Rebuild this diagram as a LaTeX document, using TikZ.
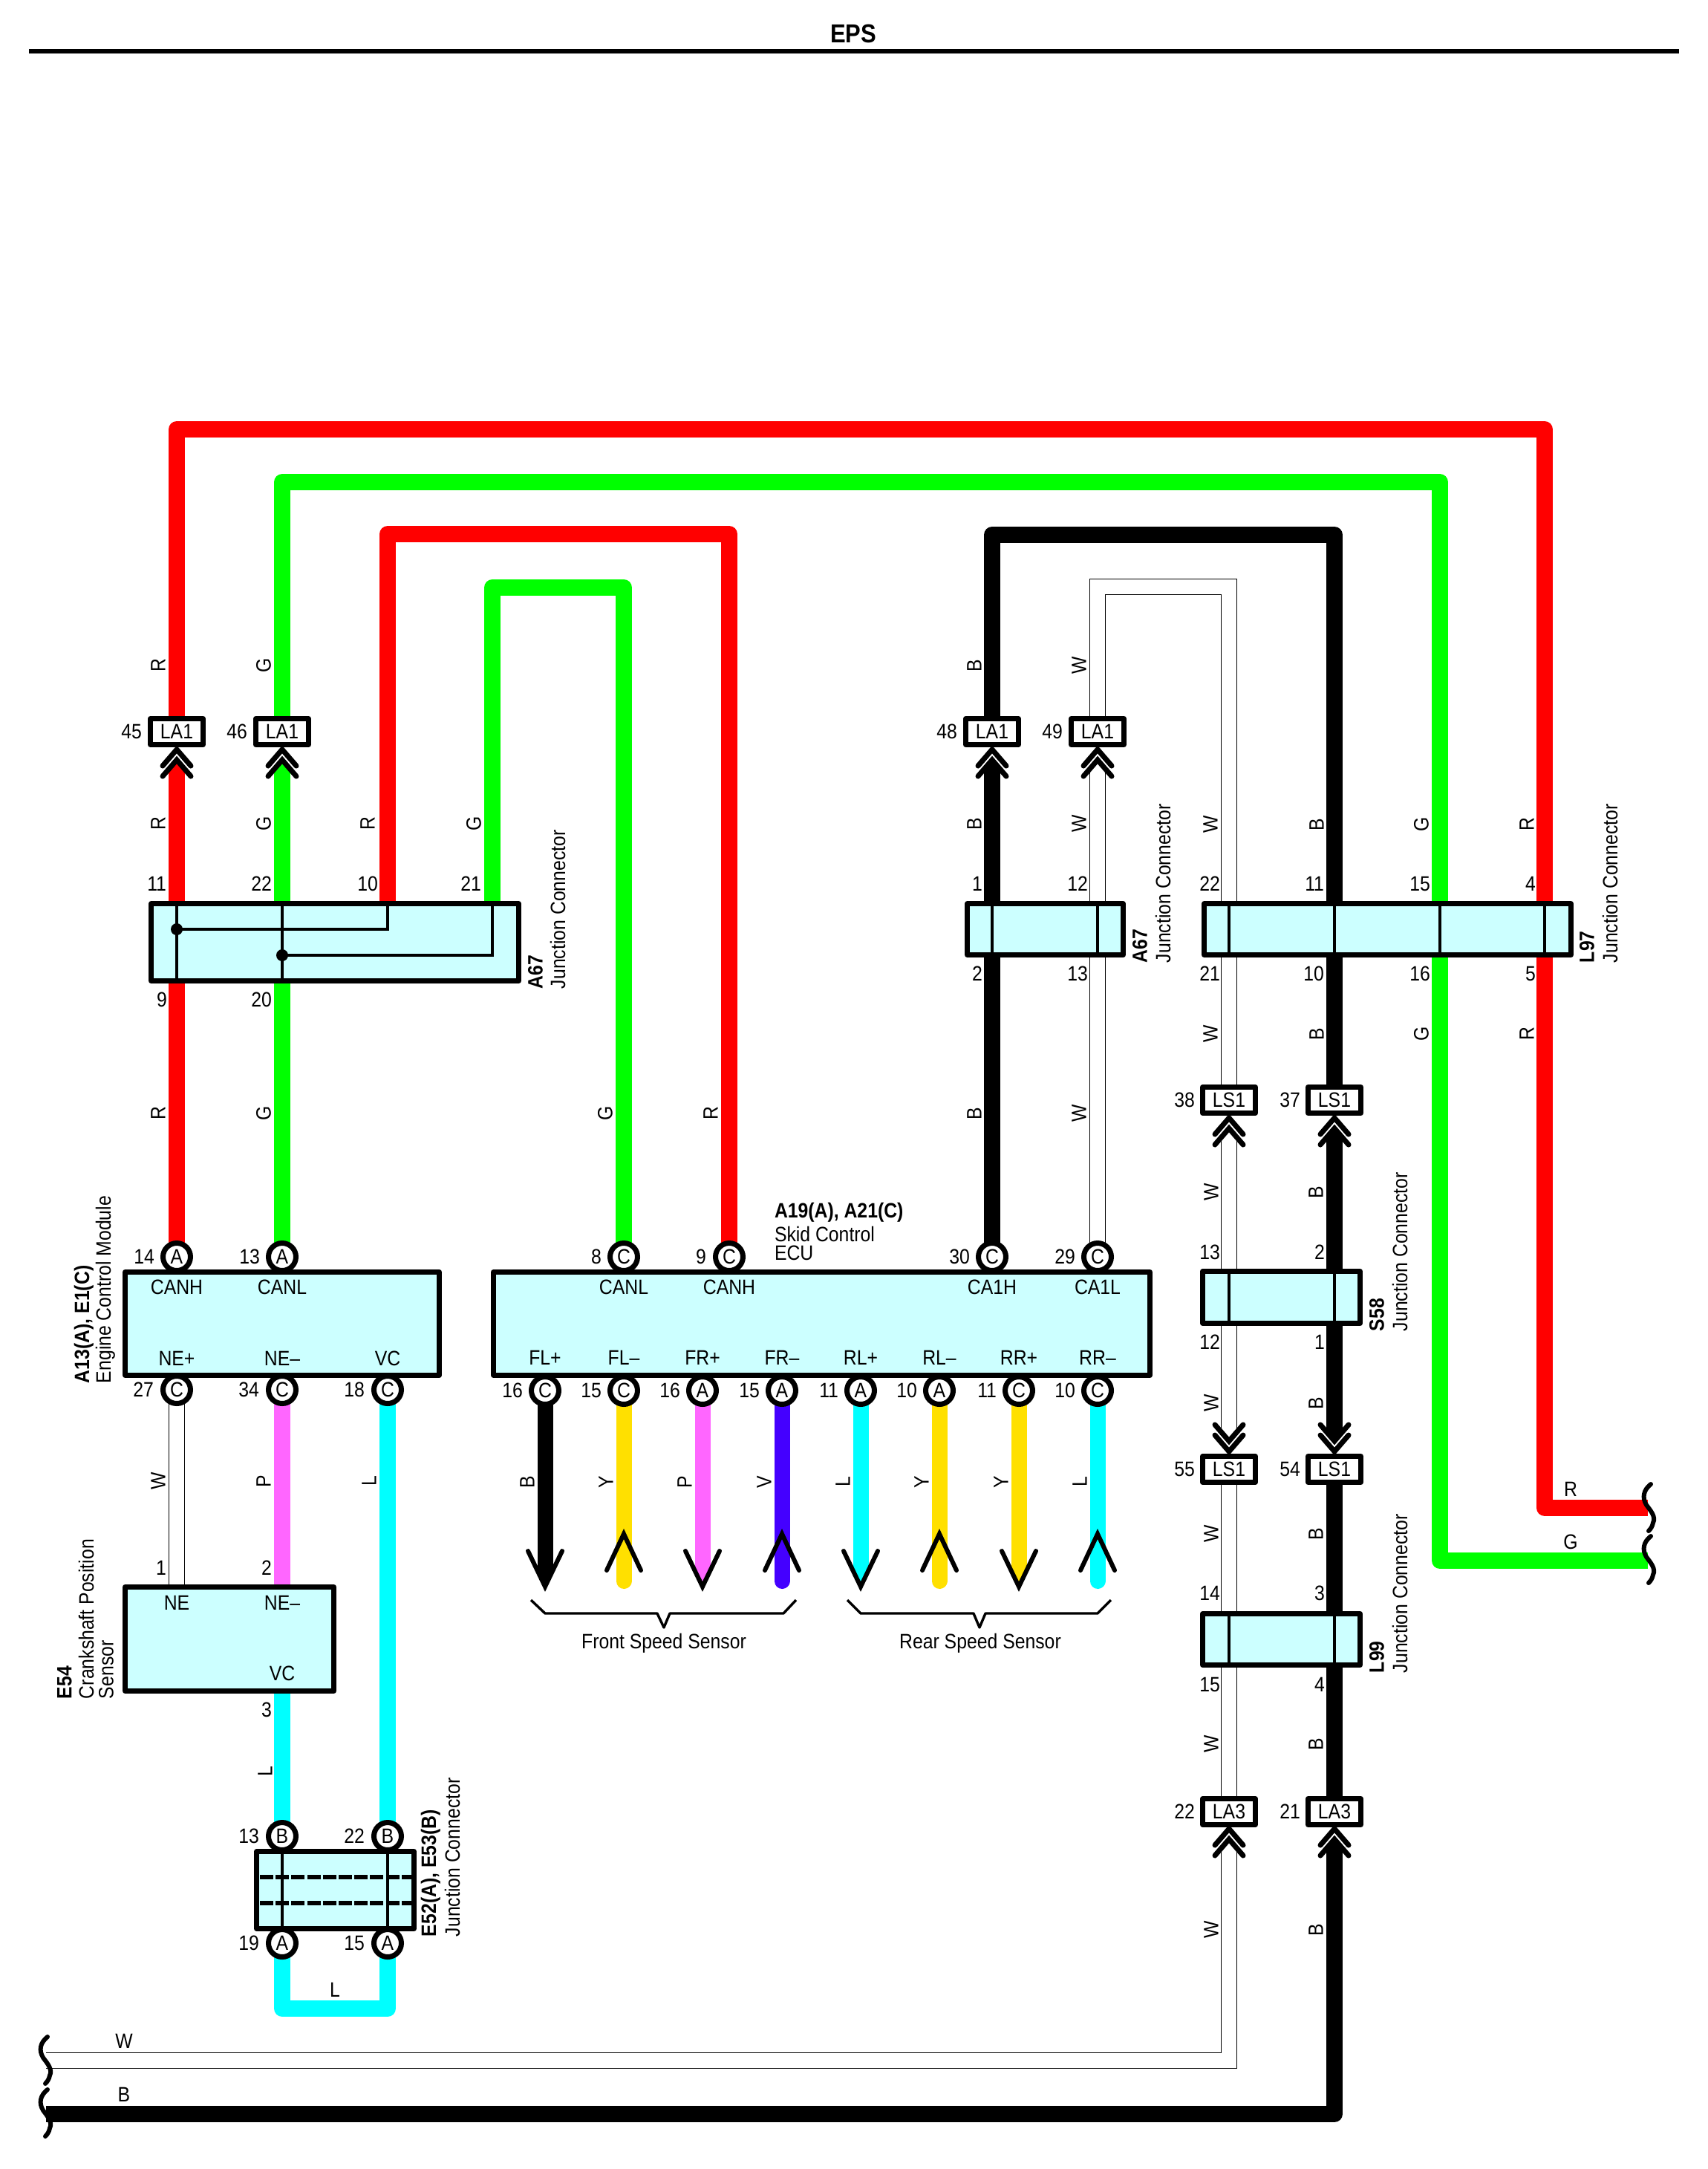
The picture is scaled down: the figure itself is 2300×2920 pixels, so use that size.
\documentclass[tikz,border=0pt]{standalone}
\usepackage{fontspec}
\setmainfont[FakeStretch=0.885]{Liberation Sans}
\pgfdeclarelayer{bg}
\pgfsetlayers{bg,main}
\definecolor{wcR}{HTML}{FF0000}
\definecolor{wcG}{HTML}{00FF00}
\definecolor{wcB}{HTML}{000000}
\definecolor{wcL}{HTML}{00FFFF}
\definecolor{wcP}{HTML}{FF66FF}
\definecolor{wcY}{HTML}{FFE000}
\definecolor{wcV}{HTML}{4400FF}
\definecolor{wcW}{HTML}{FFFFFF}
\definecolor{boxfill}{HTML}{CCFFFF}
\newcounter{tn}
\tikzset{
  txt/.style={inner sep=0pt,outer sep=0pt,font=\fontsize{14}{16}\selectfont},
  wire/.style={line width=11pt,line join=round},
  wireR/.style={wire,draw=wcR},
  wireG/.style={wire,draw=wcG},
  wireB/.style={wire,draw=wcB},
  wireL/.style={wire,draw=wcL},
  wireP/.style={wire,draw=wcP},
  wireW/.style={line width=.7pt,draw=black,double=white,double distance=9.6pt,line join=miter},
  jb/.style={draw=black,fill=boxfill,line width=3.5pt,inner sep=0pt,outer sep=0pt,line join=round},
  plug/.style={draw=black,fill=white,line width=3.5pt,inner sep=0pt,outer sep=0pt,minimum width=35.5pt,minimum height=17.5pt,font=\fontsize{14}{16}\selectfont,line join=round},
  pin/.style={circle,draw=black,fill=white,line width=3.5pt,inner sep=0pt,outer sep=0pt,minimum size=18.5pt,font=\fontsize{14}{16}\selectfont},
  innerln/.style={draw=black,line width=2pt},
  chevln/.style={draw=black,line width=3.5pt,line cap=round,line join=miter},
  arm/.style={draw=black,line width=3pt,line cap=round,line join=miter},
  squigln/.style={draw=black,line width=3pt,line cap=round},
  brace/.style={draw=black,line width=1.7pt,line join=round}
}
% text helpers: every text gets its own generated node name
\newcommand\nm[3]{\stepcounter{tn}\node[txt,anchor=east,name=t\arabic{tn}] at (#1,#2) {#3};}
\newcommand\ct[3]{\stepcounter{tn}\node[txt,name=t\arabic{tn}] at (#1,#2) {#3};}
\newcommand\wl[3]{\stepcounter{tn}\node[txt,rotate=90,name=t\arabic{tn}] at (#1,#2) {#3};}
\newcommand\rt[3]{\stepcounter{tn}\node[txt,rotate=90,anchor=west,name=t\arabic{tn}] at (#1,#2) {#3};}
% box by its outer edges: name, x0, y0, x1, y1
\newcommand\jbox[5]{%
  \pgfmathsetmacro\bw{(#4-#2-7)*.5}\pgfmathsetmacro\bh{(#5-#3-7)*.5}%
  \node[jb,minimum width=\bw pt,minimum height=\bh pt] (#1) at ({(#2+#4)/2},{(#3+#5)/2}) {};}
% double chevron: x, reference y, sign, colour
\newcommand\chev[4]{%
  \fill[#4] ({#1-11},{#2+#3*30}) -- (#1,{#2+#3*17}) -- ({#1+11},{#2+#3*30}) -- cycle;
  \draw[chevln] ({#1-19},{#2+#3*25}) -- (#1,{#2+#3*3}) -- ({#1+19},{#2+#3*25});
  \draw[chevln] ({#1-19},{#2+#3*39}) -- (#1,{#2+#3*17}) -- ({#1+19},{#2+#3*39});}
\newcommand\squig[2]{%
  \draw[squigln] (#1,#2) .. controls ({#1-10},{#2+8}) and ({#1-12},{#2+18}) .. ({#1-6},{#2+28})
    .. controls (#1,{#2+36}) and ({#1+7},{#2+44}) .. ({#1+3},{#2+52})
    .. controls ({#1+2},{#2+57}) and (#1,{#2+60}) .. ({#1-3},{#2+63});}
\begin{document}
\begin{tikzpicture}[x=.5pt,y=-.5pt]
\useasboundingbox (0,0) rectangle (2300,2920);
\begin{pgfonlayer}{bg}\fill[white] (0,0) rectangle (2300,2920);\end{pgfonlayer}

% title
\node[inner sep=0pt,font=\fontsize{17.5}{20}\selectfont\bfseries] (title) at (1149,45) {EPS};
\coordinate (ruleL) at (39,69);
\coordinate (ruleR) at (2261,69);
\draw[line width=3.2pt] (ruleL) -- (ruleR);

% junction / ECU / sensor boxes
\jbox{jA}{200}{1213}{702}{1324}
\jbox{jAr}{1299}{1213}{1516}{1289}
\jbox{jL}{1618}{1213}{2119}{1289}
\jbox{ecm}{165}{1709}{595}{1855}
\jbox{ecu}{661}{1709}{1552}{1855}
\jbox{sen}{165}{2133}{453}{2280}
\jbox{jE}{342}{2489}{561}{2600}
\jbox{jS}{1616}{1708}{1835}{1785}
\jbox{jN}{1616}{2169}{1835}{2245}

% in-line connectors
\node[plug] (p45) at (238,985) {LA1};
\node[plug] (p46) at (380,985) {LA1};
\node[plug] (p48) at (1336,985) {LA1};
\node[plug] (p49) at (1478,985) {LA1};
\node[plug] (p38) at (1655,1481) {LS1};
\node[plug] (p37) at (1797,1481) {LS1};
\node[plug] (p55) at (1655,1978) {LS1};
\node[plug] (p54) at (1797,1978) {LS1};
\node[plug] (p22) at (1655,2439) {LA3};
\node[plug] (p21) at (1797,2439) {LA3};

% inner bars of the junctions
\draw[innerln] (p45 |- jA.north) -- (p45 |- jA.south);
\draw[innerln] (p46 |- jA.north) -- (p46 |- jA.south);
\coordinate (hA) at (522,1251); \coordinate (hB) at (663,1286);
\draw[innerln] (hA |- jA.north) -- (hA) -- (p45 |- hA);
\draw[innerln] (hB |- jA.north) -- (hB) -- (p46 |- hB);
\fill (p45 |- hA) circle (8);
\fill (p46 |- hB) circle (8);
\foreach \a in {p48,p49} \draw[innerln] (\a |- jAr.north) -- (\a |- jAr.south);
\coordinate (tR) at (2080,578);
\coordinate (tG) at (1939,649);
\coordinate (tB) at (1797,720);
\coordinate (tW) at (1655,790);
\foreach \a in {tR,tG,tB,tW} \draw[innerln] (\a |- jL.north) -- (\a |- jL.south);
\foreach \a in {p38,p37} \draw[innerln] (\a |- jS.north) -- (\a |- jS.south);
\foreach \a in {p38,p37} \draw[innerln] (\a |- jN.north) -- (\a |- jN.south);

% module pins
\node[pin] (e14) at (238,1692) {A};
\node[pin] (e13) at (380,1692) {A};
\node[pin] (e27) at (238,1871) {C};
\node[pin] (e34) at (380,1871) {C};
\node[pin] (e18) at (522,1871) {C};
\node[pin] (s8) at (840,1692) {C};
\node[pin] (s9) at (982,1692) {C};
\node[pin] (s30) at (1336,1692) {C};
\node[pin] (s29) at (1478,1692) {C};
\node[pin] (b13) at (380,2472) {B};
\node[pin] (b22) at (522,2472) {B};
\node[pin] (a19) at (380,2616) {A};
\node[pin] (a15) at (522,2616) {A};
\draw[innerln] (b13 |- jE.north) -- (b13 |- jE.south);
\draw[innerln] (b22 |- jE.north) -- (b22 |- jE.south);
\coordinate (dA) at (350,2527); \coordinate (dB) at (350,2562);
\draw[line width=2.6pt,dash pattern=on 9pt off 1.6pt] (dA) -- (dA -| jE.east);
\draw[line width=2.6pt,dash pattern=on 9pt off 1.6pt] (dB) -- (dB -| jE.east);

% free wire ends and corners
\coordinate (tG2) at (663,791);
\coordinate (tR2) at (522,719);
\coordinate (endR) at (2219,2030);
\coordinate (endG) at (2219,2101);
\coordinate (endW) at (62,2774);
\coordinate (endB) at (62,2846);
\coordinate (uB) at (522,2704);
\coordinate (c45) at (238,1036);
\coordinate (c46) at (380,1036);
\coordinate (c48) at (1336,1036);
\coordinate (c49) at (1478,1036);
\coordinate (c38) at (1655,1532);
\coordinate (c37) at (1797,1532);
\coordinate (c55) at (1655,1927);
\coordinate (c54) at (1797,1927);
\coordinate (c22) at (1655,2489);
\coordinate (c21) at (1797,2489);

\begin{pgfonlayer}{bg}
% long runs
\draw[wireR] (p45.center) |- (tR) -- (tR |- jL.center);
\draw[wireG] (p46.center) |- (tG) -- (tG |- jL.center);
\draw[wireR] (s9.center) |- (tR2) -- (tR2 |- jA.center);
\draw[wireG] (s8.center) |- (tG2) -- (tG2 |- jA.center);
\draw[wireB] (p48.center) |- (tB) -- (tB |- jL.center);
\draw[wireW] (p49.center) |- (tW) -- (tW |- jL.center);
% left stack
\draw[wireR] (c45) -- (c45 |- jA.center);
\draw[wireG] (c46) -- (c46 |- jA.center);
\draw[wireR] (c45 |- jA.center) -- (e14.center);
\draw[wireG] (c46 |- jA.center) -- (e13.center);
% right stack to ECU
\draw[wireB] (c48) -- (c48 |- jAr.center);
\draw[wireW] (c49) -- (c49 |- jAr.north);
\draw[wireB] (c48 |- jAr.center) -- (s30.center);
\draw[wireW] (c49 |- jAr.south) -- (s29.north);
% L97 down
\draw[wireR] (tR |- jL.center) |- (endR);
\draw[wireG] (tG |- jL.center) |- (endG);
\draw[wireB] (tB |- jL.center) -- (p37.center);
\draw[wireW] (tW |- jL.south) -- (p38.north);
% S58
\draw[wireB] (c37) -- (c37 |- jS.center);
\draw[wireW] (c38) -- (c38 |- jS.north);
\draw[wireB] (c37 |- jS.center) -- (c54);
\draw[wireW] (c38 |- jS.south) -- (c55);
% L99
\draw[wireB] (p54.center) -- (p54 |- jN.center);
\draw[wireW] (p55.south) -- (p55 |- jN.north);
\draw[wireB] (p54 |- jN.center) -- (p21.center);
\draw[wireW] (p55 |- jN.south) -- (p22.north);
% bottom runs
\draw[wireB] (c21) |- (endB);
\draw[wireW] (c22) |- (endW);
% ECM to sensor
\draw[wireW] (e27.south) -- (e27 |- sen.north);
\draw[wireP] (e34.center) -- (e34 |- sen.center);
\draw[wireL] (e18.center) -- (b22.center);
\draw[wireL] (e34 |- sen.center) -- (b13.center);
\draw[wireL] (a19.center) |- (uB) -- (a15.center);
\end{pgfonlayer}

% chevrons
\chev{238}{1006}{1}{wcR}
\chev{380}{1006}{1}{wcG}
\chev{1336}{1006}{1}{wcB}
\chev{1478}{1006}{1}{white}
\chev{1655}{1502}{1}{white}
\chev{1797}{1502}{1}{wcB}
\chev{1655}{1957}{-1}{white}
\chev{1797}{1957}{-1}{wcB}
\chev{1655}{2459}{1}{white}
\chev{1797}{2459}{1}{wcB}

% speed sensor wires
\foreach \n/\x/\l/\c/\d in {16/734/C/B/d,15/840/C/Y/u,16/946/A/P/d,15/1053/A/V/u,11/1159/A/L/d,10/1265/A/Y/u,11/1372/C/Y/d,10/1478/C/L/u}{
  \node[pin] (f\x) at (\x,1872) {\l};
  \pgfmathsetmacro\nx{\x-30}
  \nm{\nx}{1872}{\n}
  \pgfmathsetmacro\lx{\x-24}
  \wl{\lx}{1995}{\c}
  \if d\d
    \coordinate (g\x) at (\x,2116);
    \begin{pgfonlayer}{bg}\draw[line width=10.5pt,draw=wc\c] (f\x.center) -- (g\x);\end{pgfonlayer}
    \fill[wc\c] ({\x-10.5},2115) -- (\x,2139) -- ({\x+10.5},2115) -- cycle;
    \draw[arm] ({\x-23},2088) -- (\x,2136) -- ({\x+23},2088);
  \else
    \coordinate (g\x) at (\x,2128.5);
    \begin{pgfonlayer}{bg}\draw[line width=10.5pt,line cap=round,draw=wc\c] (f\x.center) -- (g\x);\end{pgfonlayer}
    \draw[arm] ({\x-23},2114) -- (\x,2065) -- ({\x+23},2114);
  \fi
}
% braces
\coordinate (fb1) at (715,2154); \coordinate (fb2) at (734,2172); \coordinate (fb3) at (885,2172); \coordinate (fb4) at (894,2191); \coordinate (fb5) at (902,2172); \coordinate (fb6) at (1055,2172); \coordinate (fb7) at (1072,2154);
\draw[brace] (fb1)--(fb2)--(fb3)--(fb4)--(fb5)--(fb6)--(fb7);
\coordinate (rb1) at (1141,2154); \coordinate (rb2) at (1159,2172); \coordinate (rb3) at (1311,2172); \coordinate (rb4) at (1319,2191); \coordinate (rb5) at (1327,2172); \coordinate (rb6) at (1478,2172); \coordinate (rb7) at (1496,2154);
\draw[brace] (rb1)--(rb2)--(rb3)--(rb4)--(rb5)--(rb6)--(rb7);
\ct{894}{2212}{Front Speed Sensor}
\ct{1320}{2212}{Rear Speed Sensor}

% squiggles
\squig{2223}{1998}
\squig{2223}{2068}
\squig{64}{2742}
\squig{64}{2813}

% pin numbers
\nm{191}{985}{45}\nm{333}{985}{46}\nm{1289}{985}{48}\nm{1431}{985}{49}
\nm{224}{1190}{11}\nm{366}{1190}{22}\nm{509}{1190}{10}\nm{648}{1190}{21}
\nm{225}{1346}{9}\nm{366}{1346}{20}
\nm{1323}{1190}{1}\nm{1465}{1190}{12}\nm{1643}{1190}{22}\nm{1783}{1190}{11}\nm{1926}{1190}{15}\nm{2068}{1190}{4}
\nm{1323}{1311}{2}\nm{1465}{1311}{13}\nm{1643}{1311}{21}\nm{1783}{1311}{10}\nm{1926}{1311}{16}\nm{2068}{1311}{5}
\nm{208}{1692}{14}\nm{350}{1692}{13}\nm{207}{1871}{27}\nm{349}{1871}{34}\nm{491}{1871}{18}
\nm{810}{1692}{8}\nm{951}{1692}{9}\nm{1306}{1692}{30}\nm{1448}{1692}{29}
\nm{224}{2111}{1}\nm{366}{2111}{2}\nm{366}{2302}{3}
\nm{349}{2472}{13}\nm{491}{2472}{22}\nm{349}{2616}{19}\nm{491}{2616}{15}
\nm{1609}{1481}{38}\nm{1751}{1481}{37}\nm{1609}{1978}{55}\nm{1751}{1978}{54}\nm{1609}{2439}{22}\nm{1751}{2439}{21}
\nm{1643}{1686}{13}\nm{1784}{1686}{2}\nm{1643}{1807}{12}\nm{1784}{1807}{1}
\nm{1643}{2145}{14}\nm{1784}{2145}{3}\nm{1643}{2268}{15}\nm{1784}{2268}{4}

% wire colour labels
\wl{213}{896}{R}\wl{355}{896}{G}\wl{1312}{896}{B}\wl{1453}{896}{W}
\wl{213}{1109}{R}\wl{355}{1109}{G}\wl{495}{1109}{R}\wl{638}{1109}{G}\wl{1312}{1109}{B}\wl{1453}{1109}{W}
\wl{1630}{1110}{W}\wl{1773}{1110}{B}\wl{1914}{1110}{G}\wl{2056}{1110}{R}
\wl{1630}{1392}{W}\wl{1773}{1392}{B}\wl{1914}{1392}{G}\wl{2056}{1392}{R}
\wl{213}{1499}{R}\wl{355}{1499}{G}\wl{815}{1499}{G}\wl{957}{1499}{R}\wl{1312}{1499}{B}\wl{1453}{1499}{W}
\wl{1631}{1605}{W}\wl{1772}{1605}{B}\wl{1631}{1889}{W}\wl{1772}{1889}{B}\wl{1631}{2065}{W}\wl{1772}{2065}{B}
\wl{1631}{2348}{W}\wl{1772}{2348}{B}\wl{1631}{2598}{W}\wl{1772}{2598}{B}
\wl{213}{1994}{W}\wl{355}{1994}{P}\wl{497}{1994}{L}\wl{357}{2385}{L}
\ct{451}{2679}{L}\ct{167}{2748}{W}\ct{167}{2820}{B}\ct{2115}{2005}{R}\ct{2115}{2076}{G}

% pin names
\ct{238}{1733}{CANH}\ct{380}{1733}{CANL}\ct{238}{1829}{NE+}\ct{380}{1829}{NE–}\ct{522}{1829}{VC}
\ct{238}{2158}{NE}\ct{380}{2158}{NE–}\ct{380}{2253}{VC}
\ct{840}{1733}{CANL}\ct{982}{1733}{CANH}\ct{1336}{1733}{CA1H}\ct{1478}{1733}{CA1L}
\ct{734}{1828}{FL+}\ct{840}{1828}{FL–}\ct{946}{1828}{FR+}\ct{1053}{1828}{FR–}\ct{1159}{1828}{RL+}\ct{1265}{1828}{RL–}\ct{1372}{1828}{RR+}\ct{1478}{1828}{RR–}

% component names
\rt{721}{1331}{\bfseries A67}\rt{751}{1331}{Junction Connector}
\rt{1535}{1296}{\bfseries A67}\rt{1566}{1296}{Junction Connector}
\rt{2137}{1296}{\bfseries L97}\rt{2168}{1296}{Junction Connector}
\rt{113}{1862}{\bfseries A13(A), E1(C)}\rt{142}{1862}{Engine Control Module}
\rt{87}{2287}{\bfseries E54}\rt{116}{2287}{Crankshaft Position}\rt{143}{2287}{Sensor}
\rt{580}{2607}{\bfseries E52(A), E53(B)}\rt{609}{2607}{Junction Connector}
\rt{1854}{1792}{\bfseries S58}\rt{1885}{1792}{Junction Connector}
\rt{1854}{2252}{\bfseries L99}\rt{1885}{2252}{Junction Connector}
\stepcounter{tn}\node[txt,anchor=west,name=t\arabic{tn}] at (1043,1632) {\bfseries A19(A), A21(C)};
\stepcounter{tn}\node[txt,anchor=west,name=t\arabic{tn}] at (1043,1661) {Skid Control};
\stepcounter{tn}\node[txt,anchor=west,name=t\arabic{tn}] at (1043,1687) {ECU};
\end{tikzpicture}
\end{document}
